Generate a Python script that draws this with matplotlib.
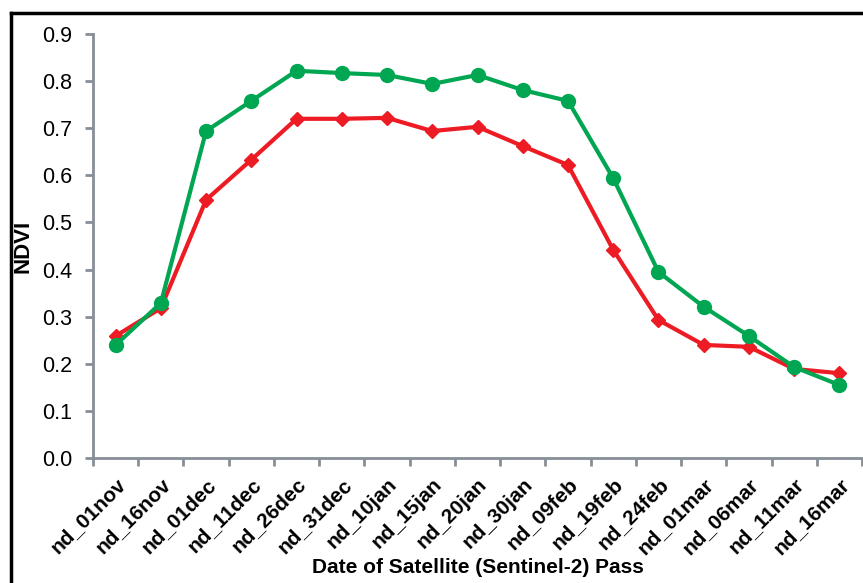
import matplotlib.pyplot as plt
from matplotlib.lines import Line2D
import numpy as np

# data
dates = ['nd_01nov', 'nd_16nov', 'nd_01dec', 'nd_11dec', 'nd_26dec', 'nd_31dec',
         'nd_10jan', 'nd_15jan', 'nd_20jan', 'nd_30jan', 'nd_09feb', 'nd_19feb',
         'nd_24feb', 'nd_01mar', 'nd_06mar', 'nd_11mar', 'nd_16mar']
green_ndvi = [0.240, 0.329, 0.694, 0.758, 0.822, 0.817, 0.813, 0.794, 0.813,
              0.781, 0.758, 0.594, 0.395, 0.321, 0.259, 0.193, 0.155]
red_ndvi = [0.259, 0.318, 0.548, 0.633, 0.720, 0.720, 0.722, 0.694, 0.703,
            0.662, 0.622, 0.442, 0.293, 0.240, 0.236, 0.189, 0.180]
y_ticks = [0.0, 0.1, 0.2, 0.3, 0.4, 0.5, 0.6, 0.7, 0.8, 0.9]

plt.rcParams['font.family'] = ['Liberation Sans', 'DejaVu Sans']

W, H = 863, 583
fig = plt.figure(figsize=(W / 100, H / 100), dpi=100)
ax = fig.add_axes([93 / W, 1 - 458 / H, (862 - 93) / W, (458 - 34) / H])

x = np.arange(len(dates))
ax.plot(x, red_ndvi, color='#ed1c24', lw=3, marker='D', ms=7, zorder=3)
ax.plot(x, green_ndvi, color='#00a651', lw=3, marker='o', ms=10, zorder=4)

ax.set_xlim(-0.5, len(dates) - 0.5)
ax.set_ylim(0, 0.9)
ax.set_yticks(y_ticks)
ax.set_yticklabels([f'{v:.1f}' for v in y_ticks], fontsize=15.5)

# boundary ticks (unlabelled) and centred labels
ax.set_xticks(np.arange(len(dates) + 1) - 0.5)
ax.set_xticklabels([])
ax.set_xticks(x, minor=True)
ax.set_xticklabels(dates, minor=True, rotation=45, ha='right', rotation_mode='anchor',
                   fontsize=15, fontweight='bold')
ax.tick_params(axis='x', which='minor', length=0, pad=12)
ax.tick_params(axis='y', which='major', pad=9)
ax.tick_params(axis='both', which='major', direction='out', length=6, width=2,
               color='#868e96')

for side in ['top', 'right']:
    ax.spines[side].set_visible(False)
for side in ['left', 'bottom']:
    ax.spines[side].set_color('#868e96')
    ax.spines[side].set_linewidth(2)

ax.set_ylabel('NDVI', fontsize=16, fontweight='bold')
ax.yaxis.set_label_coords(-0.077, 0.5)
ax.set_xlabel('Date of Satellite (Sentinel-2) Pass', fontsize=15, fontweight='bold',
              labelpad=0)

# outer frame (runs off the right and bottom edges)
fig.add_artist(Line2D([11 / W, 11 / W], [0, 1 - 13 / H], color='black', lw=2.5,
                      transform=fig.transFigure))
fig.add_artist(Line2D([11 / W, 1], [1 - 13 / H, 1 - 13 / H], color='black', lw=2.5,
                      transform=fig.transFigure))

fig.savefig('out.png', dpi=100)
